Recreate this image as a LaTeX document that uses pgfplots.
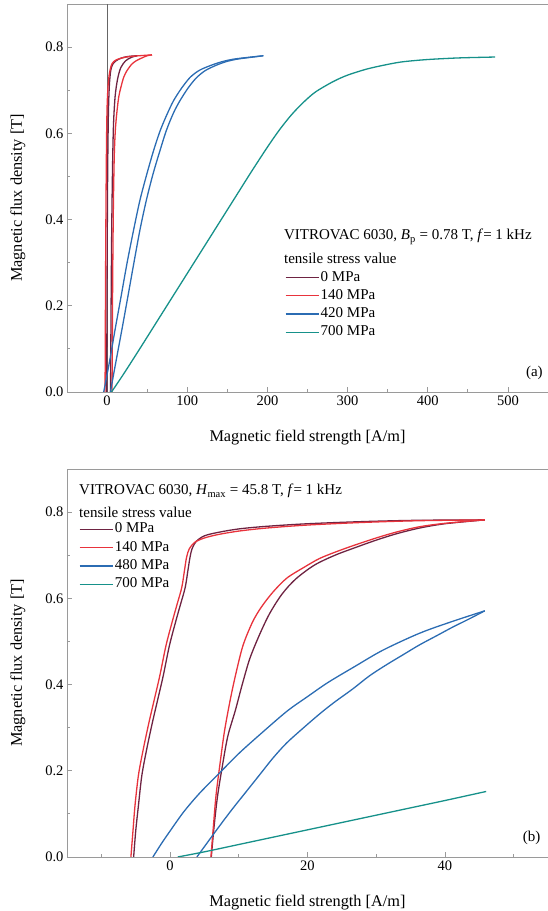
\documentclass[border=0pt]{standalone}
\usepackage{pgfplots}
\pgfplotsset{compat=1.18}
\usepackage{fontspec}
\setmainfont{Liberation Serif}
\definecolor{cmaroon}{HTML}{6E2342}
\definecolor{cred}{HTML}{E8333C}
\definecolor{cblue}{HTML}{2B6CB3}
\definecolor{cteal}{HTML}{16918A}
\definecolor{caxis}{HTML}{9A9A9A}
\newcommand\fs{\fontsize{14.5}{17}\selectfont}
\newcommand\fl{\fontsize{15}{18}\selectfont}
\newcommand\fa{\fontsize{16.3}{19}\selectfont}
\pgfplotsset{
 myaxis/.style={
  scale only axis, width=481pt, height=388pt, ymin=0, ymax=0.9,
  axis line style={caxis, line width=0.8pt},
  tick style={caxis, line width=0.8pt},
  tick align=inside, tick pos=left,
  major tick length=5pt, minor tick length=3pt,
  ytick={0,0.2,0.4,0.6,0.8}, minor ytick={0.1,0.3,0.5,0.7},
  yticklabel style={/pgf/number format/.cd, fixed, fixed zerofill, precision=1},
  /pgf/number format/assume math mode=true,
  tick label style={font=\fs, black},
  every axis y label/.style={at={(axis description cs:-0.102,0.5)}, rotate=90, anchor=center, font=\fa},
  every axis x label/.style={at={(axis description cs:0.5,-0.128)}, anchor=base, font=\fa},
  ylabel={Magnetic flux density [T]},
  xlabel={Magnetic field strength [A/m]},
  legend cell align=left,
  legend style={draw=none, fill=none, inner sep=0pt, outer sep=0pt, font=\fl, row sep=1.3pt,
    nodes={inner sep=1.5pt, text height=10.5pt, text depth=3.5pt}},
  legend image code/.code={\draw[line width=1.3pt,##1] (0pt,0pt) -- (33pt,0pt);},
  every axis plot/.append style={line width=1.3pt, line join=round, smooth, tension=0.5},
 }
}
\begin{document}
\begin{tikzpicture}
\useasboundingbox (0,0) rectangle (547pt,911pt);
% ---------------- (a)
\begin{axis}[myaxis, at={(67pt,519pt)}, anchor=south west,
  xmin=-50, xmax=550, xtick={0,100,...,500}, minor xtick={50,150,...,450},
  legend style={at={(0.453,0.317)}, anchor=north west}]
\addplot[color=black!60, line width=0.8pt, sharp plot, forget plot] coordinates {(0,0) (0,0.9)};
\addplot[cmaroon] coordinates {
(-0.5,0) (-0.2,0.15) (0.1,0.3) (0.5,0.45) (1,0.56) (1.7,0.65) (2.8,0.71) (4.5,0.745) (7,0.76) (11,0.768) (17,0.774) (25,0.778) (37.4,0.78)};
\addlegendentry{0 MPa}
\addplot[cmaroon, forget plot] coordinates {
(37.4,0.78) (30,0.776) (23,0.768) (17,0.752) (13,0.725) (10,0.685) (8,0.62) (6.8,0.52) (5.8,0.38) (5,0.2) (4.3,0)};
\addplot[cred] coordinates {
(-2.5,0) (-2.2,0.15) (-1.8,0.3) (-1.3,0.45) (-0.7,0.58) (0,0.66) (1.2,0.71) (3,0.74) (6,0.761) (11,0.77) (18.7,0.775) (28,0.778) (40,0.78) (56,0.782)};
\addlegendentry{140 MPa}
\addplot[cred, forget plot] coordinates {
(56,0.782) (50,0.78) (43.6,0.775) (37,0.769) (31.1,0.761) (25,0.746) (20.7,0.73) (17,0.705) (14.5,0.684) (12,0.645) (10.3,0.607) (9,0.55) (8,0.45) (7.3,0.33) (6.7,0.18) (6.2,0)};
\addplot[cblue] coordinates {
(-4.2,0) (3,0.07) (10,0.145) (17.5,0.222) (25,0.3) (33.1,0.376) (41,0.445) (49.8,0.507) (58,0.56) (66.4,0.607) (75,0.645) (83,0.676) (93,0.705) (103.7,0.73) (115,0.746) (128.6,0.757) (143,0.766) (157.7,0.772) (175,0.776) (195,0.78)};
\addlegendentry{420 MPa}
\addplot[cblue, forget plot] coordinates {
(195,0.78) (178,0.776) (162,0.772) (148,0.766) (135,0.757) (122,0.745) (111,0.728) (101,0.705) (91,0.676) (83,0.648) (74,0.607) (66,0.56) (57.5,0.507) (49,0.445) (41,0.376) (33,0.295) (26,0.222) (18.5,0.145) (11,0.07) (4.1,0)};
\addplot[cteal] coordinates {
(5.5,0) (20,0.04) (40,0.098) (60,0.157) (80,0.216) (100,0.275) (120,0.334) (140,0.393) (160,0.452) (180,0.511) (200,0.568) (215,0.608) (230,0.643) (245,0.672) (260,0.696) (282,0.72) (300,0.735) (323.8,0.749) (345,0.758) (365,0.765) (385,0.769) (406.7,0.772) (440,0.775) (484,0.777)};
\addlegendentry{700 MPa}
\node[anchor=base west, font=\fl, inner sep=0pt] at (rel axis cs:0.451,0.392) {VITROVAC 6030, \textit{B}\textsubscript{p} = 0.78 T, \textit{f}= 1 kHz};
\node[anchor=base west, font=\fl, inner sep=0pt] at (rel axis cs:0.451,0.330) {tensile stress value};
\node[anchor=center, font=\fl, inner sep=0pt] at (axis cs:533,0.045) {(a)};
\end{axis}
% ---------------- (b)
\begin{axis}[myaxis, at={(67pt,54pt)}, anchor=south west,
  xmin=-15, xmax=55, xtick={0,20,40}, minor xtick={-10,10,30,50},
  legend style={at={(0.025,0.866)}, anchor=north west}]
\addplot[cmaroon] coordinates {
(-5.3,0) (-5.0,0.06) (-4.6,0.12) (-4.1,0.19) (-3.4,0.25) (-2.6,0.31) (-1.8,0.365) (-1.0,0.42) (-0.1,0.49) (0.8,0.545) (1.5,0.585) (2.2,0.625) (2.6,0.665) (2.9,0.695) (3.2,0.715) (3.8,0.732) (5,0.745) (7,0.753) (10,0.761) (14,0.767) (20,0.773) (28,0.778) (36,0.781) (45.8,0.782)};
\addlegendentry{0 MPa}
\addplot[cmaroon, forget plot] coordinates {
(45.8,0.782) (40,0.773) (36.3,0.763) (33,0.75) (30,0.735) (27,0.718) (24,0.7) (21,0.677) (18.3,0.645) (16.3,0.61) (14.5,0.565) (13,0.515) (11.6,0.46) (10.5,0.4) (9.5,0.34) (8.4,0.28) (7.6,0.21) (6.9,0.14) (6.4,0.07) (6.0,0)};
\addplot[cred] coordinates {
(-5.7,0) (-5.4,0.06) (-5.1,0.12) (-4.6,0.19) (-3.9,0.25) (-3.1,0.31) (-2.3,0.365) (-1.5,0.42) (-0.6,0.49) (0.3,0.545) (1.0,0.585) (1.7,0.625) (2.1,0.665) (2.4,0.695) (2.8,0.715) (3.6,0.73) (5,0.74) (7,0.748) (10,0.756) (14,0.763) (20,0.77) (28,0.776) (36,0.78) (45.8,0.782)};
\addlegendentry{140 MPa}
\addplot[cred, forget plot] coordinates {
(45.8,0.782) (40,0.774) (36.3,0.766) (33,0.754) (30,0.74) (26.6,0.722) (24,0.707) (21.7,0.692) (19.5,0.672) (17,0.647) (15,0.615) (13.3,0.58) (12,0.545) (10.6,0.49) (9.5,0.42) (8.7,0.36) (7.9,0.29) (7.3,0.22) (6.7,0.145) (6.3,0.07) (5.95,0)};
\addplot[cblue] coordinates {
(-2.5,0) (-1.3,0.03) (-0.1,0.058) (2,0.105) (4.3,0.148) (7.2,0.195) (10,0.24) (13,0.283) (17,0.338) (20,0.372) (23,0.405) (27,0.443) (31,0.48) (36.3,0.519) (41,0.546) (45.8,0.571)};
\addlegendentry{480 MPa}
\addplot[cblue, forget plot] coordinates {
(45.8,0.571) (43.5,0.552) (41.1,0.533) (39,0.515) (36.3,0.492) (34,0.47) (31.4,0.445) (29,0.42) (26.6,0.39) (24,0.36) (22,0.335) (19.8,0.305) (17,0.265) (15,0.23) (13,0.19) (11,0.15) (9,0.11) (7.2,0.072) (5.5,0.035) (3.9,0)};
\addplot[cteal] coordinates {
(1.1,0) (5,0.012) (10,0.029) (15,0.046) (20,0.063) (25,0.08) (30,0.097) (35,0.114) (40,0.131) (46,0.152)};
\addlegendentry{700 MPa}
\node[anchor=base west, font=\fl, inner sep=0pt] at (rel axis cs:0.025,0.933) {VITROVAC 6030, \textit{H}\textsubscript{max} = 45.8 T, \textit{f}= 1 kHz};
\node[anchor=base west, font=\fl, inner sep=0pt] at (rel axis cs:0.025,0.876) {tensile stress value};
\node[anchor=center, font=\fl, inner sep=0pt] at (axis cs:52.6,0.044) {(b)};
\end{axis}
\end{tikzpicture}
\end{document}
